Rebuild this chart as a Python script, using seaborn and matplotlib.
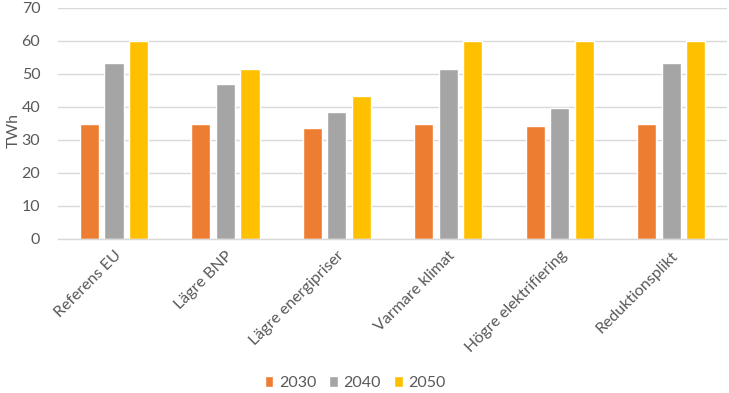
import matplotlib
matplotlib.use("Agg")
import matplotlib.pyplot as plt
import seaborn as sns
import pandas as pd

# Scenario values (TWh)
scenarios = [
    "Referens EU",
    "Lägre BNP",
    "Lägre energipriser",
    "Varmare klimat",
    "Högre elektrifiering",
    "Reduktionsplikt",
]
years = ["2030", "2040", "2050"]
v2030 = [34.8, 34.8, 33.6, 34.8, 34.3, 34.8]
v2040 = [53.4, 47.0, 38.5, 51.6, 39.8, 53.4]
v2050 = [60.0, 51.6, 43.4, 60.0, 60.0, 60.0]
colors = ["#ED7D31", "#A5A5A5", "#FFC000"]


def build_frame():
    rows = []
    for year, vals in zip(years, [v2030, v2040, v2050]):
        for sc, v in zip(scenarios, vals):
            rows.append({"Scenario": sc, "År": year, "TWh": v})
    return pd.DataFrame(rows)


def create_chart(df):
    sns.set_theme(style="whitegrid")
    plt.rcParams["font.family"] = ["Lato", "DejaVu Sans"]

    fig = plt.figure(figsize=(7.29, 3.93), dpi=100)
    ax = fig.add_axes([0.080, 0.392, 0.917, 0.588])

    sns.barplot(
        data=df, x="Scenario", y="TWh", hue="År",
        palette=colors, width=0.66, gap=0.22, ax=ax,
        saturation=1, errorbar=None,
    )

    ax.set_ylim(0, 70)
    ax.set_yticks(range(0, 71, 10))
    ax.set_xlim(-0.5, len(scenarios) - 0.5)
    ax.grid(axis="y", color="#D9D9D9", linewidth=1)
    ax.grid(axis="x", visible=False)
    ax.set_facecolor("white")
    for side in ["top", "right", "left"]:
        ax.spines[side].set_visible(False)
    ax.spines["bottom"].set_color("#D9D9D9")
    ax.spines["bottom"].set_linewidth(1)

    ax.tick_params(axis="both", length=0, colors="#595959", labelsize=11.5)
    ax.tick_params(axis="y", pad=13)
    ax.tick_params(axis="x", pad=7)
    ax.set_xlabel("")
    ax.set_ylabel("TWh", color="#595959", fontsize=11.5)
    ax.yaxis.set_label_coords(-0.056, 0.47)
    plt.setp(ax.get_xticklabels(), rotation=45, ha="right",
             rotation_mode="anchor")

    handles, labels = ax.get_legend_handles_labels()
    ax.legend_.remove()
    fig.legend(
        handles, labels, loc="center", bbox_to_anchor=(0.487, 0.025),
        ncol=3, frameon=False, fontsize=11.5, handlelength=0.55,
        handleheight=0.7, handletextpad=0.35, columnspacing=0.8,
        labelcolor="#595959",
    )

    fig.savefig("out.png", dpi=100)


if __name__ == "__main__":
    create_chart(build_frame())
